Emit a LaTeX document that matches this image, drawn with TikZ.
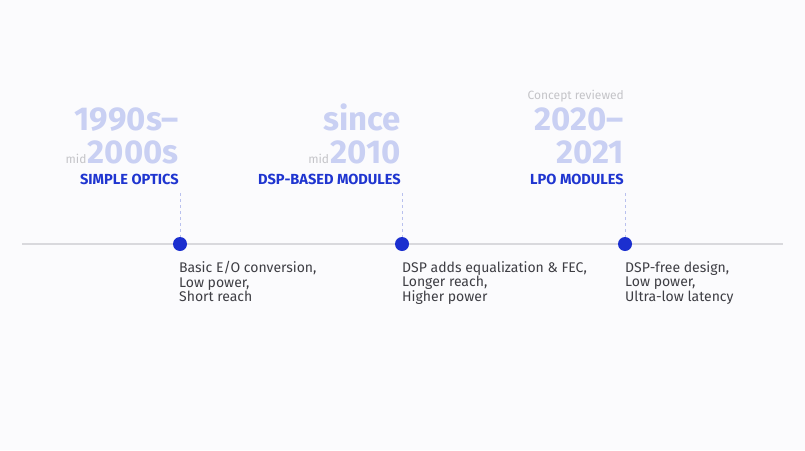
\documentclass[tikz,border=0pt]{standalone}
\usepackage{fontspec}
\setmainfont{Fira Sans}
\definecolor{bgc}{HTML}{FBFBFD}
\definecolor{axisc}{HTML}{D9D9DD}
\definecolor{dotc}{HTML}{1B2FCF}
\definecolor{yearc}{HTML}{C9D0F3}
\definecolor{midc}{HTML}{C4C4C8}
\definecolor{headc}{HTML}{1F35D0}
\definecolor{bodyc}{HTML}{3E3E44}
\definecolor{dashc}{HTML}{B9C1EE}
\tikzset{
  year/.style={font=\fontsize{33}{33}\selectfont\bfseries, text=yearc, inner sep=0pt, anchor=base east},
  midlbl/.style={font=\fontsize{12}{12}\selectfont, text=midc, inner sep=0pt, anchor=base east},
  head/.style={font=\fontsize{14.6}{15}\selectfont\bfseries, text=headc, inner sep=0pt, anchor=base east},
  body/.style={font=\fontsize{14}{14.6}\selectfont, text=bodyc, inner sep=0pt, anchor=north west, align=left},
  dot/.style={circle, fill=dotc, minimum size=14pt, inner sep=0pt},
  stem/.style={dashc, line width=1pt, dash pattern=on 3pt off 3pt},
  concept/.style={font=\fontsize{12}{12}\selectfont, text=midc, inner sep=0pt, anchor=base east}
}
\begin{document}
\begin{tikzpicture}[x=1pt,y=-1pt]
\fill[bgc] (0,0) rectangle (805,450);
\useasboundingbox (0,0) rectangle (805,450);
\coordinate (L) at (22,244);
\coordinate (R) at (783,244);
\draw[axisc, line width=2pt] (L) -- (R);
% event 1
\coordinate (s1) at (180,193);
\node[dot] (d1) at (180,244) {};
\draw[stem] (s1) -- (d1.north);
\node[year] (y1a) at (179,130) {1990s–};
\node[year] (y1b) at (179,163) {2000s};
\node[midlbl] (m1) at ([xshift=-1pt]y1b.base west) {mid};
\node[head] (h1) at (179,184) {SIMPLE OPTICS};
\node[body] (b1) at (179,261) {Basic E/O conversion,\\Low power,\\Short reach};
% event 2
\coordinate (s2) at (402,193);
\node[dot] (d2) at (402,244) {};
\draw[stem] (s2) -- (d2.north);
\node[year] (y2a) at (401,130) {since};
\node[year] (y2b) at (401,163) {2010};
\node[midlbl] (m2) at ([xshift=-1pt]y2b.base west) {mid};
\node[head] (h2) at (401,184) {DSP-BASED MODULES};
\node[body] (b2) at (402,261) {DSP adds equalization \& FEC,\\Longer reach,\\Higher power};
% event 3
\coordinate (s3) at (625,193);
\node[dot] (d3) at (625,244) {};
\draw[stem] (s3) -- (d3.north);
\node[concept] (c3) at (624,99) {Concept reviewed};
\node[year] (y3a) at (624,130) {2020–};
\node[year] (y3b) at (624,163) {2021};
\node[head] (h3) at (624,184) {LPO MODULES};
\node[body] (b3) at (625,261) {DSP-free design,\\Low power,\\Ultra-low latency};
\end{tikzpicture}
\end{document}
